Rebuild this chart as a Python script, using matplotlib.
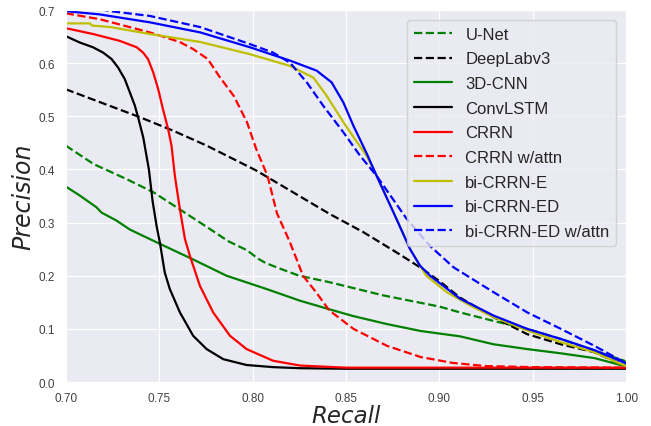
import matplotlib
matplotlib.use('Agg')
import matplotlib.pyplot as plt
import seaborn as sns

# precision/recall points
unet_x = [0.70, 0.715, 0.7325, 0.747, 0.761, 0.775, 0.787, 0.797, 0.803, 0.807, 0.815, 0.825, 0.841, 0.87, 0.90, 0.911, 0.929, 0.947, 0.965, 0.983, 0.999, 1.00]
unet_y = [0.445, 0.41, 0.382, 0.357, 0.325, 0.293, 0.265, 0.248, 0.232, 0.224, 0.213, 0.20, 0.188, 0.163, 0.142, 0.131, 0.115, 0.10, 0.081, 0.059, 0.04, 0.035]

deeplab_x = [0.70, 0.74, 0.7575, 0.7754, 0.802, 0.8414, 0.8593, 0.877, 0.8896, 0.90, 0.911, 0.929, 0.947, 0.965, 0.983, 0.995, 1.00]
deeplab_y = [0.551, 0.498, 0.473, 0.445, 0.398, 0.316, 0.282, 0.244, 0.216, 0.19, 0.159, 0.122, 0.09, 0.071, 0.056, 0.037, 0.03]

cnn3d_x = [0.70, 0.7075, 0.7164, 0.7191, 0.7271, 0.7343, 0.7504, 0.768, 0.7861, 0.8075, 0.8254, 0.841, 0.854, 0.872, 0.89, 0.911, 0.929, 0.947, 0.965, 0.983, 0.997, 1.00]
cnn3d_y = [0.368, 0.351, 0.329, 0.319, 0.304, 0.287, 0.26, 0.231, 0.20, 0.175, 0.153, 0.137, 0.124, 0.109, 0.096, 0.086, 0.071, 0.062, 0.054, 0.045, 0.032, 0.03]

convlstm_x = [0.70, 0.7075, 0.7146, 0.72, 0.7245, 0.728, 0.7316, 0.734, 0.737, 0.7388, 0.7415, 0.7445, 0.7465, 0.7486, 0.7504, 0.753, 0.7557, 0.7611, 0.7682, 0.7754, 0.7843, 0.7968, 0.811, 0.8254, 0.85, 1.00]
convlstm_y = [0.651, 0.639, 0.630, 0.620, 0.608, 0.592, 0.570, 0.548, 0.520, 0.497, 0.46, 0.40, 0.34, 0.294, 0.262, 0.206, 0.175, 0.131, 0.087, 0.062, 0.043, 0.032, 0.028, 0.026, 0.025, 0.025]

crrn_x = [0.70, 0.7146, 0.729, 0.738, 0.7414, 0.744, 0.7468, 0.7495, 0.752, 0.7548, 0.7566, 0.7584, 0.7611, 0.7638, 0.7664, 0.7718, 0.7789, 0.7879, 0.7968, 0.811, 0.8254, 0.85, 1.00]
crrn_y = [0.666, 0.655, 0.642, 0.630, 0.620, 0.608, 0.583, 0.551, 0.514, 0.476, 0.445, 0.388, 0.325, 0.269, 0.238, 0.181, 0.131, 0.087, 0.062, 0.040, 0.031, 0.027, 0.027]

crrn_attn_x = [0.70, 0.718, 0.745, 0.761, 0.768, 0.776, 0.782, 0.79, 0.797, 0.802, 0.808, 0.813, 0.82, 0.827, 0.834, 0.841, 0.854, 0.872, 0.89, 0.907, 0.925, 0.95, 1.00]
crrn_attn_y = [0.694, 0.683, 0.658, 0.64, 0.627, 0.608, 0.576, 0.538, 0.489, 0.438, 0.388, 0.318, 0.263, 0.20, 0.169, 0.135, 0.10, 0.068, 0.047, 0.036, 0.03, 0.028, 0.027]

bie_x = [0.70, 0.713, 0.714, 0.724, 0.745, 0.772, 0.7986, 0.82, 0.8325, 0.8396, 0.8486, 0.8548, 0.861, 0.8664, 0.877, 0.8843, 0.8896, 0.893, 0.904, 0.916, 0.929, 0.947, 0.965, 0.983, 0.995, 1.00]
bie_y = [0.675, 0.675, 0.671, 0.668, 0.655, 0.64, 0.617, 0.595, 0.573, 0.539, 0.489, 0.457, 0.426, 0.388, 0.307, 0.25, 0.219, 0.20, 0.169, 0.145, 0.122, 0.097, 0.075, 0.056, 0.037, 0.03]

bied_x = [0.70, 0.718, 0.745, 0.772, 0.7986, 0.82, 0.8343, 0.8423, 0.8486, 0.854, 0.8611, 0.8664, 0.877, 0.8843, 0.8896, 0.895, 0.911, 0.929, 0.947, 0.965, 0.983, 1.00]
bied_y = [0.698, 0.692, 0.677, 0.658, 0.630, 0.605, 0.586, 0.564, 0.526, 0.482, 0.43, 0.388, 0.307, 0.25, 0.219, 0.20, 0.157, 0.125, 0.10, 0.081, 0.06, 0.035]

bied_attn_x = [0.70, 0.724, 0.745, 0.772, 0.7986, 0.811, 0.82, 0.829, 0.8378, 0.8486, 0.8575, 0.8664, 0.8825, 0.895, 0.9075, 0.929, 0.947, 0.965, 0.983, 0.999, 1.00]
bied_attn_y = [0.715, 0.698, 0.689, 0.668, 0.636, 0.620, 0.601, 0.564, 0.520, 0.470, 0.426, 0.388, 0.307, 0.256, 0.216, 0.169, 0.131, 0.10, 0.068, 0.037, 0.035]

sns.set_style('darkgrid')
plt.rcParams['font.family'] = ['Liberation Sans', 'DejaVu Sans']

fig = plt.figure(figsize=(6.51, 4.27), dpi=100)
ax = fig.add_axes([0.101, 0.103, 0.861, 0.871])

ax.plot(unet_x, unet_y, 'g--', lw=1.6, label='U-Net')
ax.plot(deeplab_x, deeplab_y, 'k--', lw=1.6, label='DeepLabv3')
ax.plot(cnn3d_x, cnn3d_y, 'g-', lw=1.6, label='3D-CNN')
ax.plot(convlstm_x, convlstm_y, 'k-', lw=1.6, label='ConvLSTM')
ax.plot(crrn_x, crrn_y, 'r-', lw=1.6, label='CRRN')
ax.plot(crrn_attn_x, crrn_attn_y, 'r--', lw=1.6, label='CRRN w/attn')
ax.plot(bie_x, bie_y, 'y-', lw=1.6, label='bi-CRRN-E')
ax.plot(bied_x, bied_y, 'b-', lw=1.6, label='bi-CRRN-ED')
ax.plot(bied_attn_x, bied_attn_y, 'b--', lw=1.6, label='bi-CRRN-ED w/attn')

ax.set_xlim(0.70, 1.00)
ax.set_ylim(0.0, 0.7)
ax.set_xticks([0.70, 0.75, 0.80, 0.85, 0.90, 0.95, 1.00])
ax.set_xticklabels(['0.70', '0.75', '0.80', '0.85', '0.90', '0.95', '1.00'])
ax.set_yticks([0.0, 0.1, 0.2, 0.3, 0.4, 0.5, 0.6, 0.7])
ax.tick_params(labelsize=8.5, colors='#404040', pad=4)

ax.set_xlabel('Recall', fontsize=16.5, style='italic', family='DejaVu Sans', color='#262626', labelpad=0)
ax.set_ylabel('Precision', fontsize=17, style='italic', family='DejaVu Sans', color='#262626', labelpad=2.5)

ax.legend(loc='upper right', fontsize=12, labelspacing=0.58, handlelength=2.3,
          borderaxespad=0.6)

fig.savefig('out.png', dpi=100)
